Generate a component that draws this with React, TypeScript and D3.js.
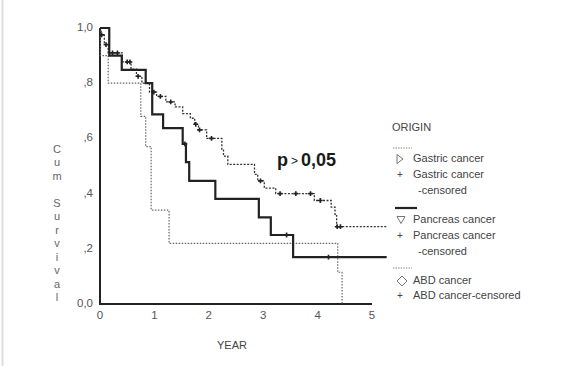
import React from 'react';
import * as d3 from 'd3';

// Kaplan-Meier steps: [time in years, survival after the drop]
const gastricSteps: [number, number][] = [
  [0, 1.0], [0.02, 0.975], [0.08, 0.94], [0.15, 0.91], [0.41, 0.877], [0.57, 0.851],
  [0.67, 0.825], [0.77, 0.8], [0.91, 0.768], [1.04, 0.752], [1.21, 0.732], [1.38, 0.714],
  [1.52, 0.69], [1.66, 0.673], [1.74, 0.651], [1.81, 0.631], [1.96, 0.6], [2.24, 0.56],
  [2.27, 0.536], [2.35, 0.506], [2.84, 0.47], [2.9, 0.446], [3.02, 0.42], [3.23, 0.4],
  [3.94, 0.375], [4.25, 0.351], [4.32, 0.32], [4.35, 0.28], [5.27, 0.28],
];
const gastricCensored = [0.03, 0.11, 0.23, 0.32, 0.5, 0.55, 0.7, 0.99, 1.11, 1.3, 1.76, 1.83, 2.05, 2.95, 3.31, 3.6, 3.87, 4.05, 4.36, 4.42];

const pancreasSteps: [number, number][] = [
  [0, 1.0], [0.17, 0.9], [0.4, 0.848], [0.84, 0.8], [0.96, 0.687], [1.16, 0.637],
  [1.52, 0.58], [1.58, 0.514], [1.64, 0.446], [2.12, 0.381], [2.92, 0.314], [3.14, 0.25],
  [3.55, 0.17], [5.27, 0.17],
];
const pancreasCensored = [1.56, 3.43, 4.2];

const abdSteps: [number, number][] = [
  [0, 1.0], [0.01, 0.9], [0.15, 0.8], [0.75, 0.68], [0.84, 0.57], [0.94, 0.34],
  [1.27, 0.22], [4.37, 0.115], [4.45, 0.0],
];

const yTicks = [0, 0.2, 0.4, 0.6, 0.8, 1.0];
const yTickLabels = ['0,0', ',2', ',4', ',6', ',8', '1,0'];
const xTicks = [0, 1, 2, 3, 4, 5];
const yTitle = ['C', 'u', 'm', ' ', 'S', 'u', 'r', 'v', 'i', 'v', 'a', 'l'];

const x = d3.scaleLinear().domain([0, 5]).range([100, 372]);
const y = d3.scaleLinear().domain([0, 1]).range([304, 28]);

const stepLine = d3
  .line<[number, number]>()
  .x(d => x(d[0]))
  .y(d => y(d[1]))
  .curve(d3.curveStepAfter);

// survival level at time t for a step series
const levelAt = (steps: [number, number][], t: number) => {
  let s = steps[0][1];
  for (const [tt, ss] of steps) if (tt <= t) s = ss;
  return s;
};

const font = '"Liberation Sans", Arial, sans-serif';
const grey = '#555';

const Plus = ({ cx, cy, r = 2.4 }: { cx: number; cy: number; r?: number }) => (
  <path d={`M${cx - r},${cy}H${cx + r}M${cx},${cy - r}V${cy + r}`} stroke="#222" strokeWidth={1.6} />
);

const App = () => {
  return (
    <svg
      width={583}
      height={366}
      style={{ position: 'absolute', left: 0, top: 0, background: '#fff' }}
      fontFamily={font}
    >
      <line x1={2.5} x2={2.5} y1={0} y2={366} stroke="#ddd" strokeWidth={2} />

      {/* axes */}
      <line x1={x(0)} x2={x(0)} y1={y(0) + 1} y2={y(1)} stroke="#222" strokeWidth={2} />
      <line x1={x(0) - 1} x2={x(5)} y1={y(0)} y2={y(0)} stroke="#222" strokeWidth={2} />

      {yTicks.map((v, i) => (
        <text key={v} x={93} y={y(v)} textAnchor="end" dominantBaseline="middle" fontSize={11.5} fill={grey}>
          {yTickLabels[i]}
        </text>
      ))}
      {xTicks.map(v => (
        <text key={v} x={x(v)} y={316} textAnchor="middle" dominantBaseline="middle" fontSize={11.5} fill={grey}>
          {v}
        </text>
      ))}
      <text x={232} y={346} textAnchor="middle" dominantBaseline="middle" fontSize={11} fill="#444">
        YEAR
      </text>
      {yTitle.map((c, i) => (
        <text key={i} x={57} y={150 + i * 13.5} textAnchor="middle" dominantBaseline="middle" fontSize={11} fill="#666">
          {c}
        </text>
      ))}

      {/* survival curves */}
      <path d={stepLine(abdSteps) || ''} fill="none" stroke="#666" strokeWidth={1.2} strokeDasharray="1.5,1.5" />
      <path d={stepLine(gastricSteps) || ''} fill="none" stroke="#333" strokeWidth={1.3} strokeDasharray="2,1.5" />
      <path d={stepLine(pancreasSteps) || ''} fill="none" stroke="#222" strokeWidth={2.2} />

      {gastricCensored.map((t, i) => (
        <Plus key={'g' + i} cx={x(t)} cy={y(levelAt(gastricSteps, t))} />
      ))}
      {pancreasCensored.map((t, i) => (
        <Plus key={'p' + i} cx={x(t)} cy={y(levelAt(pancreasSteps, t))} />
      ))}

      <text x={277} y={166} fontSize={18} fill="#1a1a1a" fontWeight="bold" fontFamily='"Liberation Sans Narrow", "Liberation Sans", sans-serif'>
        p<tspan fontSize={12} fontWeight="normal" dx={3} dy={-1}>{'>'}</tspan>
        <tspan dx={3} dy={1}>0,05</tspan>
      </text>

      {/* legend */}
      <g fontSize={11} fill="#444">
        <text x={392} y={128} dominantBaseline="middle">ORIGIN</text>
        <line x1={393} x2={412} y1={148} y2={148} stroke="#777" strokeWidth={1} strokeDasharray="1.3,1.3" />
        <path d="M397,154.5L403,159L397,163.5Z" fill="none" stroke="#666" strokeWidth={0.9} />
        <text x={413} y={159} dominantBaseline="middle">Gastric cancer</text>
        <text x={397} y={175} dominantBaseline="middle" fontSize={10}>+</text>
        <text x={413} y={175} dominantBaseline="middle">Gastric cancer</text>
        <text x={418} y={191} dominantBaseline="middle">-censored</text>

        <line x1={395} x2={417} y1={208} y2={208} stroke="#222" strokeWidth={2.2} />
        <path d="M397,216.5L405,216.5L401,223.5Z" fill="none" stroke="#666" strokeWidth={0.9} />
        <text x={413} y={220} dominantBaseline="middle">Pancreas cancer</text>
        <text x={397} y={236} dominantBaseline="middle" fontSize={10}>+</text>
        <text x={413} y={236} dominantBaseline="middle">Pancreas cancer</text>
        <text x={418} y={252} dominantBaseline="middle">-censored</text>

        <line x1={393} x2={412} y1={268} y2={268} stroke="#777" strokeWidth={1} strokeDasharray="1.3,1.3" />
        <path d="M402,276L407,281L402,286L397,281Z" fill="none" stroke="#666" strokeWidth={0.9} />
        <text x={413} y={281} dominantBaseline="middle">ABD cancer</text>
        <text x={397} y={296} dominantBaseline="middle" fontSize={10}>+</text>
        <text x={413} y={296} dominantBaseline="middle">ABD cancer-censored</text>
      </g>
    </svg>
  );
};

export default App;
